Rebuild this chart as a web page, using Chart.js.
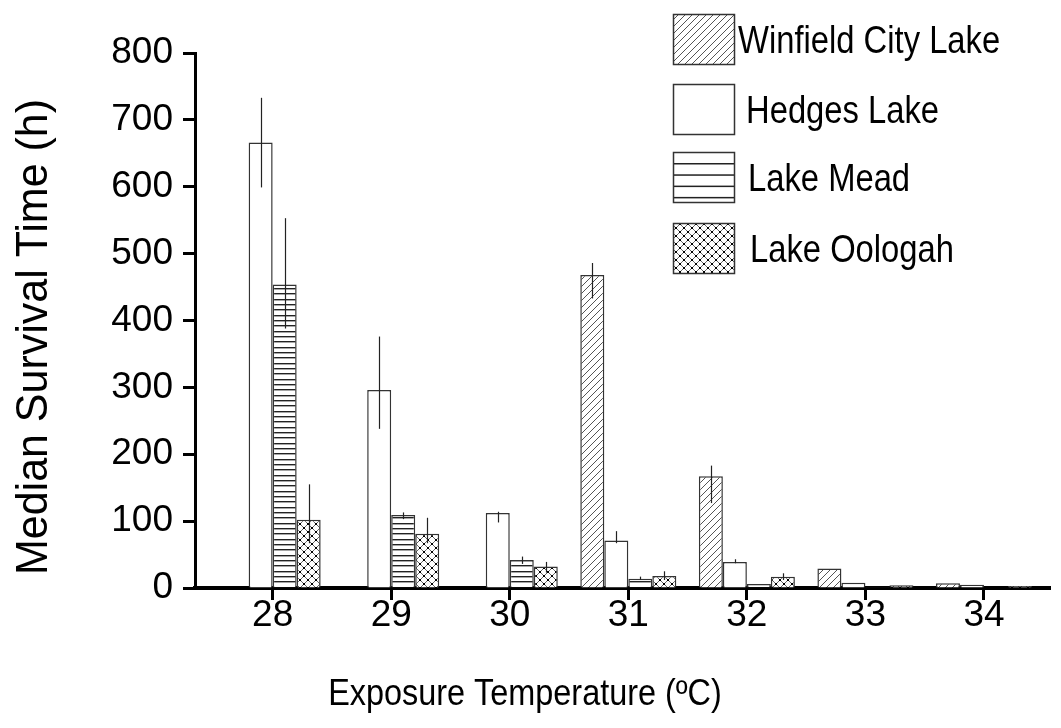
<!DOCTYPE html>
<html><head><meta charset="utf-8">
<script src="https://cdn.jsdelivr.net/npm/chart.js@4/dist/chart.umd.min.js"></script>
<style>html,body{margin:0;padding:0;background:#fff;}</style>
</head><body>
<canvas id="c" width="1061" height="728"></canvas>
<script>
// ---- data ----
const temps = [28, 29, 30, 31, 32, 33, 34];
const seriesNames = ['Winfield City Lake', 'Hedges Lake', 'Lake Mead', 'Lake Oologah'];
const winfield = [0, 0, 0, 468, 167, 29, 7];
const hedges   = [666, 296, 112, 71, 39, 8, 5];
const mead     = [454, 109, 42, 14, 6, 2, 0];
const oologah  = [102, 81, 32, 18, 17, 4, 3];
const winfieldErr = [null, null, null, [433, 486], [127, 183], null, null];
const hedgesErr   = [[599, 733], [238, 376], [98, 114], [67, 85], [37, 43], null, null];
const meadErr     = [[388, 553], [103, 113], [36, 47], [12, 17], null, null, null];
const oologahErr  = [[67, 155], [67, 105], [23, 39], [12, 25], [12, 22], null, null];
const yTickValues = [0, 100, 200, 300, 400, 500, 600, 700, 800];
const xTitle = 'Exposure Temperature (ºC)';
const yTitle = 'Median Survival Time (h)';

const FONT = "'Liberation Sans', Arial, sans-serif";

// ---- patterns ----
function tile(w, h, draw) {
  const c = document.createElement('canvas'); c.width = w; c.height = h;
  const g = c.getContext('2d'); g.fillStyle = '#fff'; g.fillRect(0, 0, w, h);
  draw(g, w, h);
  return document.getElementById('c').getContext('2d').createPattern(c, 'repeat');
}
function diag(g, s, up) {
  g.beginPath();
  if (up) {
    g.moveTo(0, s); g.lineTo(s, 0);
    g.moveTo(-1, 1); g.lineTo(1, -1);
    g.moveTo(s - 1, s + 1); g.lineTo(s + 1, s - 1);
  } else {
    g.moveTo(0, 0); g.lineTo(s, s);
    g.moveTo(s - 1, -1); g.lineTo(s + 1, 1);
    g.moveTo(-1, s - 1); g.lineTo(1, s + 1);
  }
  g.stroke();
}
const patWinfield = tile(7, 7, (g) => { g.strokeStyle = '#555'; g.lineWidth = 1; diag(g, 7, true); });
const patMead = tile(4, 16, (g) => { g.fillStyle = '#222'; g.fillRect(0, 0, 4, 1.4); g.fillRect(0, 5, 4, 1.4); g.fillRect(0, 11, 4, 1.4); });
const patOologah = tile(8, 8, (g) => {
  g.strokeStyle = '#666'; g.lineWidth = 1; diag(g, 8, true); diag(g, 8, false);
  g.fillStyle = '#000';
  [[0,0],[8,0],[0,8],[8,8],[4,4]].forEach(p => g.fillRect(p[0]-1, p[1]-1, 2, 2));
});
const fills = [patWinfield, '#fff', patMead, patOologah];
const seriesValues = [winfield, hedges, mead, oologah];
const seriesErrs = [winfieldErr, hedgesErr, meadErr, oologahErr];

function squeezedText(ctx, text, x, y, size, sx, rot, align) {
  ctx.save();
  ctx.translate(x, y);
  if (rot) ctx.rotate(rot);
  ctx.scale(sx, 1);
  ctx.font = size + 'px ' + FONT;
  ctx.fillStyle = '#000';
  ctx.textAlign = align;
  ctx.textBaseline = 'alphabetic';
  ctx.fillText(text, 0, 0);
  ctx.restore();
}

// ---- plugins ----
const errorBars = {
  id: 'errorBars',
  afterDatasetsDraw(chart) {
    const ctx = chart.ctx, ys = chart.scales.y;
    ctx.save(); ctx.strokeStyle = '#222'; ctx.lineWidth = 1.2;
    seriesErrs.forEach((arr, di) => {
      const meta = chart.getDatasetMeta(di);
      arr.forEach((e, i) => {
        if (!e) return;
        const x = Math.round(meta.data[i].x) + 0.5;
        ctx.beginPath();
        ctx.moveTo(x, ys.getPixelForValue(e[0]));
        ctx.lineTo(x, ys.getPixelForValue(e[1]));
        ctx.stroke();
      });
    });
    ctx.restore();
  }
};
const decorations = {
  id: 'decorations',
  afterDraw(chart) {
    const ctx = chart.ctx;
    const bx = 673, bw = 61, bh = 50;
    const tops = [14, 84, 152, 223];
    const textX = [738, 746, 748, 750];
    ctx.save();
    seriesNames.forEach((name, i) => {
      const y = tops[i];
      ctx.fillStyle = i === 2 ? '#fff' : fills[i];
      ctx.fillRect(bx, y, bw, bh);
      if (i === 2) {
        ctx.fillStyle = '#222';
        for (let k = 0; k < 4; k++) ctx.fillRect(bx, y + 12 + k * 11.3 - 1, bw, 1.5);
      }
      ctx.strokeStyle = '#333'; ctx.lineWidth = 1.5;
      ctx.strokeRect(bx + 0.5, y + 0.5, bw, bh);
      squeezedText(ctx, name, textX[i], y + 39, 39, 0.84, 0, 'left');
    });
    // axis titles
    squeezedText(ctx, xTitle, 525, 705, 36, 0.9, 0, 'center');
    squeezedText(ctx, yTitle, 47, 337, 45, 0.955, -Math.PI / 2, 'center');
    ctx.restore();
  }
};

// ---- chart ----
new Chart(document.getElementById('c'), {
  type: 'bar',
  data: {
    datasets: seriesNames.map((name, di) => ({
      label: name,
      data: temps.map((t, i) => ({ x: t, y: seriesValues[di][i] })),
      backgroundColor: fills[di],
      borderColor: '#333',
      borderWidth: 1.5,
      categoryPercentage: 0.81,
      barPercentage: 1.0
    }))
  },
  options: {
    responsive: false,
    animation: false,
    devicePixelRatio: 1,
    layout: { padding: { left: 0, right: 11, top: 53, bottom: 0 } },
    plugins: { legend: { display: false }, tooltip: { enabled: false } },
    scales: {
      x: {
        type: 'linear', min: 27.345, max: 34.557, offset: false,
        grid: { display: true, offset: false, drawOnChartArea: false, drawTicks: true, tickLength: 12, tickWidth: 3, tickColor: '#000' },
        border: { display: true, color: '#000', width: 4 },
        ticks: { stepSize: 1, includeBounds: false, autoSkip: false, maxRotation: 0, color: '#000', padding: -6,
                 font: { family: FONT, size: 37 }, callback: v => temps.includes(v) ? String(v) : '' },
        title: { display: false },
        afterFit(s) { s.height = 140; }
      },
      y: {
        min: 0, max: 800,
        grid: { display: true, drawOnChartArea: false, drawTicks: true, tickLength: 12, tickWidth: 3, tickColor: '#000' },
        border: { display: true, color: '#000', width: 3 },
        ticks: { stepSize: 100, color: '#000', padding: 10, font: { family: FONT, size: 37 },
                 callback: v => yTickValues.includes(v) ? String(v) : '' },
        title: { display: false },
        afterFit(s) { s.width = 195; }
      }
    }
  },
  plugins: [errorBars, decorations]
});
</script>
</body></html>
